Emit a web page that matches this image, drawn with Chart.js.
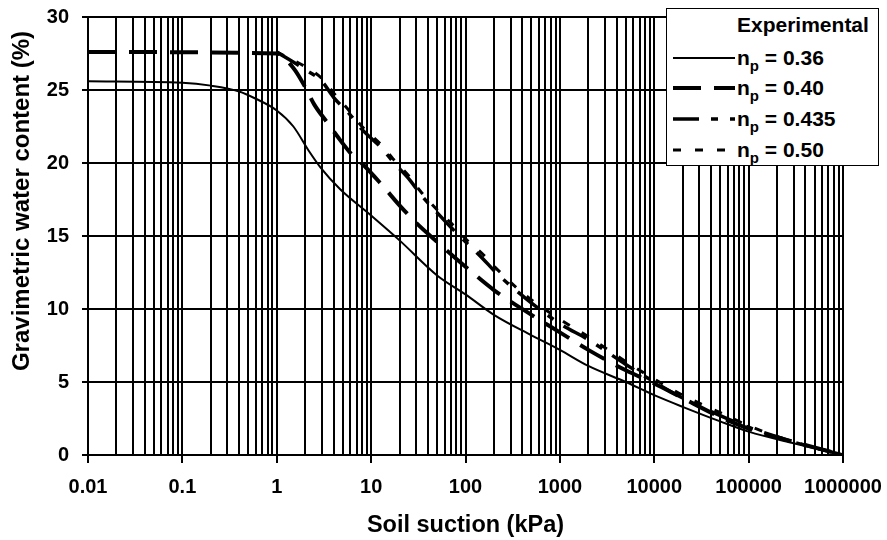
<!DOCTYPE html>
<html>
<head>
<meta charset="utf-8">
<script src="https://cdn.jsdelivr.net/npm/chart.js@4.4.0/dist/chart.umd.min.js"></script>
<style>
  body { margin: 0; background: #fff; }
  #wrap { position: relative; width: 887px; height: 540px; }
  #legend {
    position: absolute; left: 666px; top: 8px; width: 211px; height: 156px;
    border: 1.5px solid #000; background: #fff; color: #000;
    font-family: 'Liberation Sans', Arial, sans-serif; font-weight: bold; font-size: 21px;
  }
  .row { position: absolute; left: 0; height: 24px; line-height: 24px; white-space: nowrap; }
  .row svg { position: absolute; left: 6px; top: 7px; }
  .row span { position: absolute; left: 70px; }
  sub { font-size: 15px; vertical-align: -6px; line-height: 0; }
</style>
</head>
<body>
<div id="wrap">
  <canvas id="soilChart" width="887" height="540"></canvas>
  <div id="legend"></div>
</div>
<script>
const xTickLabels = ['0.01', '0.1', '1', '10', '100', '1000', '10000', '100000', '1000000'];
const xAxisTitle = 'Soil suction (kPa)';
const yAxisTitle = 'Gravimetric water content (%)';

const seriesNames = ['0.36', '0.40', '0.435', '0.50'];

// n_p = 0.36 (solid)
const suction036 = [0.01, 0.1, 0.2, 0.4, 0.6, 1, 1.5, 2.2, 2.9, 4.7, 10, 20, 50, 100, 200, 500, 1000, 2000, 5000, 10000, 20000, 50000, 100000, 300000, 1000000];
const water036 = [25.6, 25.5, 25.3, 24.9, 24.4, 23.6, 22.5, 20.8, 19.7, 18.2, 16.4, 14.7, 12.3, 11.0, 9.6, 8.2, 7.2, 6.1, 5.0, 4.1, 3.3, 2.3, 1.6, 0.8, 0];

// n_p = 0.40
const suction040 = [0.01, 1, 1.5, 2, 2.5, 3.4, 4.3, 6.4, 8.2, 13, 20, 30, 50, 100, 200, 500, 1000, 2000, 5000, 10000, 20000, 50000, 100000, 300000, 1000000];
const water040 = [27.6, 27.5, 26.5, 25.2, 24.0, 22.8, 21.9, 20.5, 19.9, 18.5, 17.1, 15.9, 14.6, 12.9, 11.3, 9.6, 8.4, 7.2, 5.8, 4.9, 3.9, 2.6, 1.8, 0.9, 0];

// n_p = 0.435
const suction0435 = [1, 2, 3, 4, 6, 8, 13, 17, 26, 33, 50, 70, 100, 150, 210, 440, 1000, 2000, 5000, 10000, 20000, 50000, 100000, 300000, 1000000];
const water0435 = [27.6, 26.4, 25.6, 24.5, 23.3, 22.3, 21.0, 20.1, 18.8, 17.9, 16.6, 15.6, 14.6, 13.5, 12.5, 10.7, 9.0, 7.9, 6.2, 5.0, 3.9, 2.7, 1.9, 0.9, 0];

// n_p = 0.50
const suction050 = [1, 2, 3, 4, 6, 8, 13, 17, 26, 33, 50, 70, 100, 150, 210, 440, 1000, 2000, 5000, 10000, 20000, 50000, 100000, 300000, 1000000];
const water050 = [27.6, 26.6, 25.8, 24.8, 23.5, 22.5, 21.2, 20.3, 19.0, 18.1, 16.8, 15.9, 14.8, 13.8, 12.8, 10.9, 9.3, 8.1, 6.4, 5.2, 4.1, 2.9, 2.0, 0.9, 0];

const lineStyles = [
  { width: 2, dash: [] },
  { width: 4, dash: [28, 13] },
  { width: 3.5, dash: [26, 12, 7, 12] },
  { width: 3, dash: [8, 14] }
];

const FONT = "'Liberation Sans', Arial, sans-serif";

function pairs(xs, ys) {
  return xs.map((x, i) => ({ x: x, y: ys[i] }));
}

const seriesData = [
  pairs(suction036, water036),
  pairs(suction040, water040),
  pairs(suction0435, water0435),
  pairs(suction050, water050)
];

function logTicks() {
  const ticks = [];
  for (let d = 0; d < xTickLabels.length - 1; d++) {
    const base = Number(xTickLabels[d]);
    for (let s = 1; s <= 9; s++) {
      ticks.push({ value: Number((base * s).toPrecision(6)) });
    }
  }
  ticks.push({ value: Number(xTickLabels[xTickLabels.length - 1]) });
  return ticks;
}

function isDecade(v) {
  return xTickLabels.some(l => Number(l) === v);
}

// y title sits above the plot's middle in the original, so draw it ourselves
const yTitlePlugin = {
  id: 'yTitle',
  afterDraw(chart) {
    const ctx = chart.ctx;
    ctx.save();
    ctx.translate(22, 201);
    ctx.rotate(-Math.PI / 2);
    ctx.font = 'bold 24px ' + FONT;
    ctx.fillStyle = '#000';
    ctx.textAlign = 'center';
    ctx.textBaseline = 'middle';
    ctx.fillText(yAxisTitle, 0, 0);
    ctx.restore();
  }
};

new Chart('soilChart', {
  type: 'scatter',
  data: {
    datasets: seriesData.map((d, i) => ({
      label: 'n_p = ' + seriesNames[i],
      data: d,
      showLine: true,
      fill: false,
      pointRadius: 0,
      borderColor: '#000',
      borderWidth: lineStyles[i].width,
      borderDash: lineStyles[i].dash,
      borderCapStyle: 'butt',
      cubicInterpolationMode: 'monotone'
    }))
  },
  plugins: [yTitlePlugin],
  options: {
    responsive: false,
    animation: false,
    layout: { padding: { top: 17, right: 44, left: 0, bottom: 0 } },
    plugins: {
      legend: { display: false },
      tooltip: { enabled: false }
    },
    scales: {
      x: {
        type: 'logarithmic',
        min: 0.01,
        max: 1000000,
        afterBuildTicks: scale => { scale.ticks = logTicks(); },
        afterFit: scale => {
          scale.height = 85;
          scale.paddingLeft = 0;
          scale.paddingRight = 0;
        },
        grid: {
          color: '#000',
          lineWidth: 2,
          tickLength: 8,
          tickColor: c => (c.tick && isDecade(c.tick.value)) ? '#000' : 'rgba(0,0,0,0)'
        },
        border: { display: true, color: '#000', width: 2 },
        ticks: {
          autoSkip: false,
          maxRotation: 0,
          padding: 12,
          color: '#000',
          font: { family: FONT, size: 20, weight: 'bold' },
          callback: v => {
            const l = xTickLabels.find(t => Number(t) === v);
            return l === undefined ? '' : l;
          }
        },
        title: {
          display: true,
          text: xAxisTitle,
          color: '#000',
          padding: { top: 0, bottom: 0 },
          font: { family: FONT, size: 23.5, weight: 'bold' }
        }
      },
      y: {
        min: 0,
        max: 30,
        afterFit: scale => {
          scale.width = 88;
          scale.paddingTop = 0;
          scale.paddingBottom = 0;
        },
        grid: { color: '#000', lineWidth: 2, tickLength: 6, tickColor: '#000' },
        border: { display: true, color: '#000', width: 2 },
        ticks: {
          stepSize: 5,
          padding: 13,
          color: '#000',
          font: { family: FONT, size: 20, weight: 'bold' }
        },
        title: { display: false }
      }
    }
  }
});

// legend box with subscripted labels
const legend = document.getElementById('legend');
const rowTops = [36.5, 66.5, 97.5, 128.5];
const title = document.createElement('div');
title.className = 'row';
title.style.top = '3.5px';
title.innerHTML = '<span>Experimental</span>';
legend.appendChild(title);
seriesNames.forEach((name, i) => {
  const row = document.createElement('div');
  row.className = 'row';
  row.style.top = rowTops[i] + 'px';
  const st = lineStyles[i];
  row.innerHTML =
    '<svg width="62" height="10"><line x1="0" y1="5" x2="62" y2="5" stroke="#000" stroke-width="' + st.width +
    '" stroke-dasharray="' + (st.dash.length ? st.dash.join(' ') : 'none') + '"/></svg>' +
    '<span>n<sub>p</sub> = ' + name + '</span>';
  legend.appendChild(row);
});
</script>
</body>
</html>
